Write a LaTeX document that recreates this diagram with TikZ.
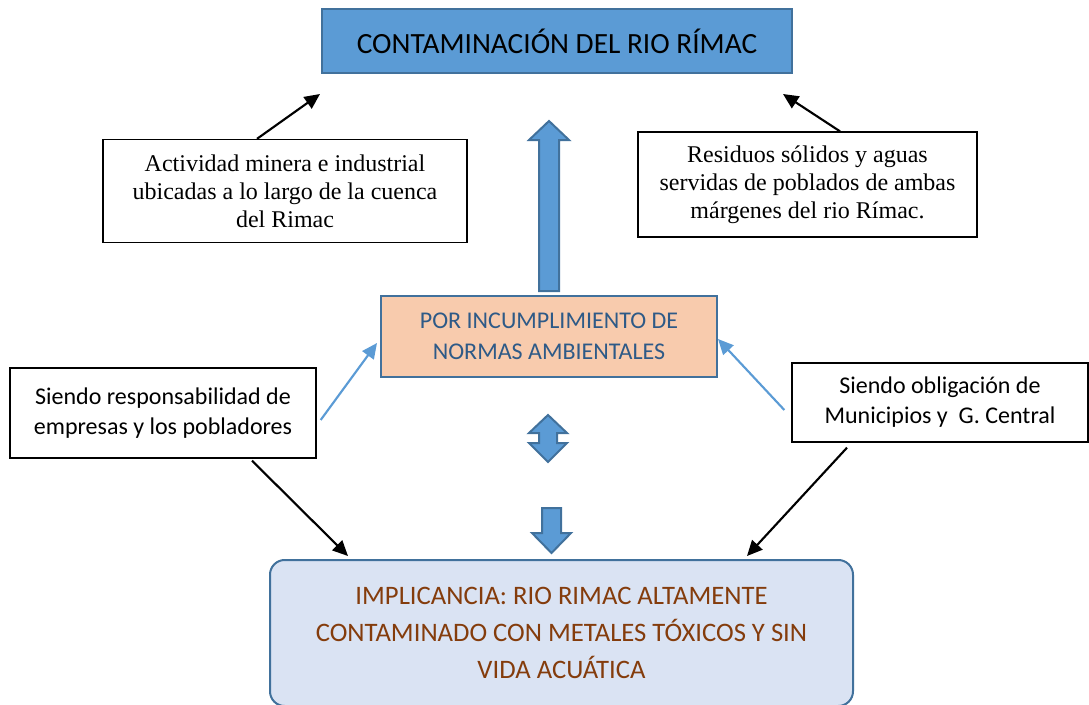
\documentclass[tikz,border=0pt]{standalone}
\usepackage{fontspec}
\setmainfont{Liberation Serif}
\setsansfont{Carlito}
\usetikzlibrary{arrows.meta, calc}
\definecolor{cblue}{HTML}{5B9BD5}
\definecolor{cborder}{HTML}{41719C}
\definecolor{corange}{HTML}{F8CBAD}
\definecolor{cpale}{HTML}{DAE3F3}
\definecolor{cbrown}{HTML}{843C0C}
\definecolor{cnavy}{HTML}{2E5A87}
\tikzset{
  every picture/.style={font=\sffamily, line width=1pt},
  box/.style={draw=black, fill=white, line width=1pt, align=center, inner sep=0pt},
  serifbox/.style={box, font=\rmfamily\fontsize{18}{21}\selectfont},
  sansbox/.style={box, font=\sffamily\fontsize{18}{22.5}\selectfont},
  titlebox/.style={draw=cborder, fill=cblue, line width=1.5pt, align=center, inner sep=0pt, font=\sffamily\fontsize{22}{26}\selectfont},
  causebox/.style={draw=cborder, fill=corange, line width=1.5pt, align=center, inner sep=0pt, text=cnavy, font=\sffamily\fontsize{18}{23.25}\selectfont},
  resultbox/.style={draw=cborder, fill=cpale, line width=1.5pt, rounded corners=11pt, align=center, inner sep=0pt, text=cbrown, font=\sffamily\fontsize{20}{27.75}\selectfont},
  arrow/.style={-{Triangle[length=11.5pt, width=10.5pt]}, draw=black, line width=1.6pt},
  larrow/.style={arrow, draw=cblue},
  block/.style={fill=cblue, draw=cborder, line width=1.5pt, line join=miter},
}
% block arrows: x of the axis, then y of the two ends
\newcommand{\blockup}[3]{
  \draw[block] (#1,#2) -- ++(20,19) -- ++(-10,0) -- (#1+10,#3) -- (#1-10,#3) -- (#1-10,#2+19) -- ++(-10,0) -- cycle;
}
\newcommand{\blockdown}[3]{
  \draw[block] (#1,#3) -- ++(19.5,-20) -- ++(-10,0) -- (#1+9.5,#2) -- (#1-9.5,#2) -- (#1-9.5,#3-20) -- ++(-10,0) -- cycle;
}
\newcommand{\blockupdown}[3]{
  \draw[block] (#1,#2) -- ++(19,18) -- ++(-10,0) -- (#1+9,#3-19) -- ++(10,0) -- (#1,#3) -- ++(-19,-19) -- ++(10,0) -- (#1-9,#2+18) -- ++(-10,0) -- cycle;
}

\begin{document}
\begin{tikzpicture}[x=0.75pt, y=-0.75pt]
  \useasboundingbox (0,0) rectangle (1089,704);
  % top
  \node[titlebox, minimum width=352.5pt, minimum height=48pt] (top) at (557,41) {CONTAMINACIÓN DEL RIO RÍMAC};
  \node[serifbox, minimum width=273pt, minimum height=77.25pt] (act) at (285,191) {Actividad minera e industrial\\ubicadas a lo largo de la cuenca\\del Rimac};
  \node[serifbox, minimum width=254.25pt, minimum height=78.75pt] (res) at (807.5,184.5) {Residuos sólidos y aguas\\servidas de poblados de ambas\\márgenes del rio Rímac.};
  \coordinate (topL) at (320,94);
  \coordinate (topR) at (783,94);
  \draw[arrow] ($(act.north)+(-28,0)$) -- (topL);
  \draw[arrow] ($(res.north)+(32.5,0)$) -- (topR);
  % middle
  \node[causebox, minimum width=252pt, minimum height=60.75pt] (norm) at (549,336.5) {POR INCUMPLIMIENTO DE\\NORMAS AMBIENTALES};
  \node[sansbox, minimum width=229.5pt, minimum height=67.5pt] (emp) at (163,413) {Siendo responsabilidad de\\empresas y los pobladores};
  \node[sansbox, minimum width=222pt, minimum height=59.25pt] (mun) at (940,402.5) {Siendo obligación de\\Municipios y\ \ G. Central};
  \draw[larrow] ($(emp.east)+(4,7)$) -- ($(norm.west)+(-3,6.5)$);
  \draw[larrow] ($(mun.west)+(-7,7.5)$) -- ($(norm.east)+(0,2.5)$);
  \blockup{549}{121}{291}
  \blockupdown{548}{415}{462}
  \blockdown{551.5}{508}{553}
  % bottom
  \node[resultbox, minimum width=437.25pt, minimum height=109.5pt] (impl) at (561.5,633) {IMPLICANCIA: RIO RIMAC ALTAMENTE\\CONTAMINADO CON METALES TÓXICOS Y SIN\\VIDA ACUÁTICA};
  \draw[arrow] ($(emp.south)+(89,2)$) -- ($(impl.north)+(-213.5,-3)$);
  \draw[arrow] ($(mun.south)+(-93,5)$) -- ($(impl.north)+(185.5,-3)$);
\end{tikzpicture}
\end{document}
